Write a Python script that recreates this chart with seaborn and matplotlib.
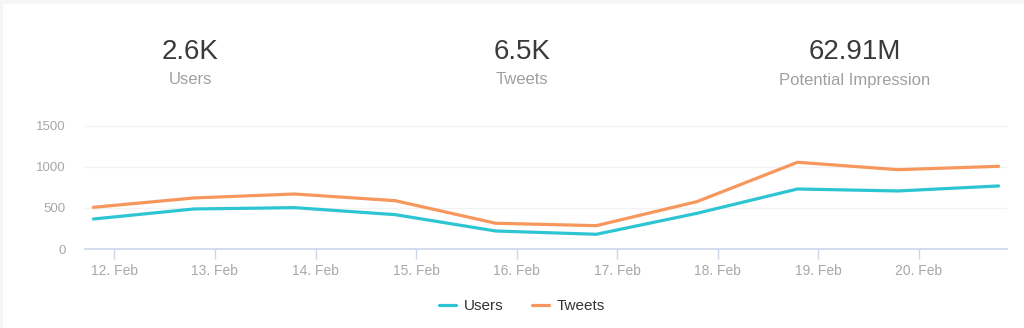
import matplotlib
matplotlib.use("Agg")
import matplotlib.pyplot as plt
import matplotlib.dates as mdates
from matplotlib.patches import Rectangle
import seaborn as sns
import pandas as pd

# ---- data ----
dates = pd.date_range("2019-02-11 19:00", periods=10, freq="D")
users = [365, 487, 503, 418, 219, 179, 434, 730, 706, 767]
tweets = [507, 621, 669, 588, 313, 284, 576, 1055, 965, 1006]
stat_values = ["2.6K", "6.5K", "62.91M"]
stat_labels = ["Users", "Tweets", "Potential Impression"]
series_names = ["Users", "Tweets"]
colors = ["#2ec5d3", "#f7975c"]

df = pd.DataFrame({
    "date": list(dates) * 2,
    "value": users + tweets,
    "series": [series_names[0]] * len(users) + [series_names[1]] * len(tweets),
})

sns.set_theme(style="white")
plt.rcParams["font.family"] = ["Liberation Sans", "DejaVu Sans"]

W, H = 1024, 328
fig = plt.figure(figsize=(W / 100, H / 100), dpi=100, facecolor="#f6f6f6")
fig.patches.append(Rectangle((3 / W, 0), 1 - 3 / W, 1 - 4 / H, transform=fig.transFigure,
                             facecolor="white", edgecolor="none", zorder=-1))

left, right = 85 / W, 1007 / W
bottom = (H - 249) / H
top = (H - 125.7) / H
ax = fig.add_axes([left, bottom, right - left, top - bottom])
ax.set_facecolor("white")

sns.lineplot(data=df, x="date", y="value", hue="series", palette=colors,
             hue_order=series_names, linewidth=2.3, ax=ax, legend=True)

pad = pd.Timedelta(hours=2)
ax.set_xlim(dates[0] - pad, dates[-1] + pad)
ax.set_ylim(0, 1500)
ax.set_yticks([0, 500, 1000, 1500])
ax.grid(axis="y", color="#f2f2f2", linewidth=1)
ax.grid(axis="x", visible=False)
ax.set_axisbelow(True)

ax.xaxis.set_major_locator(mdates.DayLocator())
ax.xaxis.set_major_formatter(mdates.DateFormatter("%d. %b"))
ax.tick_params(axis="x", bottom=True, direction="out", length=7, width=1,
               color="#ccd6eb", labelcolor="#a8a8a8", labelsize=10, pad=4)
ax.tick_params(axis="y", left=False, length=0, labelcolor="#a8a8a8",
               labelsize=9.5, pad=14)

for s in ["top", "right", "left"]:
    ax.spines[s].set_visible(False)
ax.spines["bottom"].set_color("#ccd6eb")
ax.spines["bottom"].set_linewidth(1.2)
ax.set_xlabel("")
ax.set_ylabel("")

# legend
handles, labels = ax.get_legend_handles_labels()
ax.legend(handles, labels, loc="center", bbox_to_anchor=(522 / W, (H - 306) / H),
          bbox_transform=fig.transFigure, ncol=2, frameon=False, fontsize=11,
          handlelength=1.1, columnspacing=1.9, handletextpad=0.5,
          labelcolor="#333333")

# stat header
xs = [190, 522, 855]
for x, v, lab in zip(xs, stat_values, stat_labels):
    fig.text(x / W, (H - 52) / H, v, ha="center", va="center", fontsize=20,
             color="#3a3a3a")
    fig.text(x / W, (H - 80) / H, lab, ha="center", va="center", fontsize=12,
             color="#a0a0a0")

fig.savefig("out.png", dpi=100, facecolor=fig.get_facecolor())
